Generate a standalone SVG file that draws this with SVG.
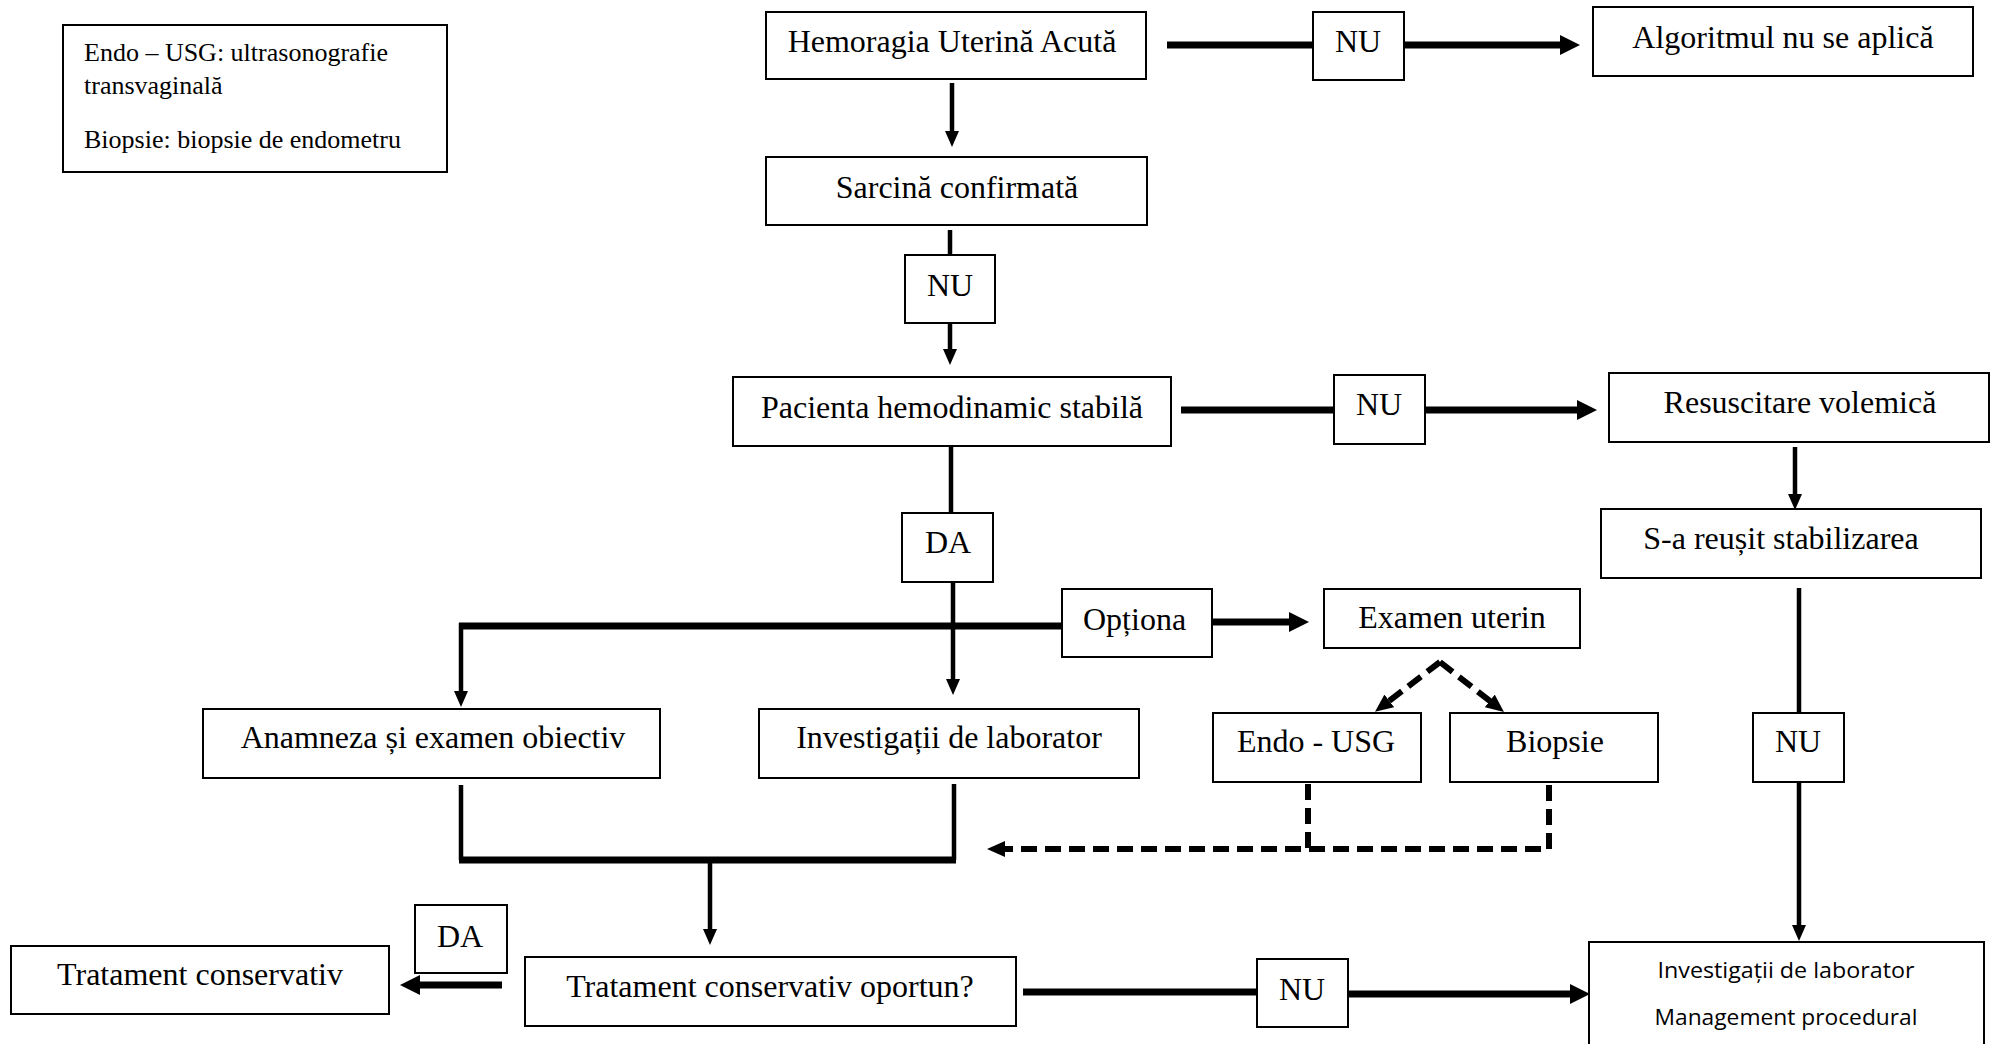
<svg xmlns="http://www.w3.org/2000/svg" width="1996" height="1044" viewBox="0 0 1996 1044">
<style>
.box{fill:#fff;stroke:#000;stroke-width:2}
.t{font-family:"Liberation Serif","Times New Roman",serif;font-size:32px;fill:#000;text-anchor:middle}
.leg{font-family:"Liberation Serif","Times New Roman",serif;font-size:26px;fill:#000}
.s{font-family:"Open Sans","Liberation Sans",sans-serif;font-size:21px;fill:#000;text-anchor:middle}
.thin{stroke:#000;stroke-width:4.5;fill:none}
.thick{stroke:#000;stroke-width:7;fill:none}
.dash{stroke:#000;stroke-width:6;fill:none;stroke-dasharray:16 8}
</style>
<defs>
<marker id="aThin" markerUnits="userSpaceOnUse" viewBox="0 0 16 14" markerWidth="16" markerHeight="14" refX="1" refY="7" orient="auto"><path d="M0,0 L16,7 L0,14 z" fill="#000"/></marker>
<marker id="aThick" markerUnits="userSpaceOnUse" viewBox="0 0 20 20" markerWidth="20" markerHeight="20" refX="1" refY="10" orient="auto"><path d="M0,0 L20,10 L0,20 z" fill="#000"/></marker>
<marker id="aDash" markerUnits="userSpaceOnUse" viewBox="0 0 18 16" markerWidth="18" markerHeight="16" refX="1" refY="8" orient="auto"><path d="M0,0 L18,8 L0,16 z" fill="#000"/></marker>
</defs>
<rect width="1996" height="1044" fill="#fff"/>

<g id="connectors">
<line class="thick" x1="1167" y1="45" x2="1313" y2="45"/>
<line class="thick" x1="1404" y1="45" x2="1561" y2="45" marker-end="url(#aThick)"/>
<line class="thin" x1="952" y1="83" x2="952" y2="132" marker-end="url(#aThin)"/>
<line class="thin" x1="950" y1="230" x2="950" y2="255"/>
<line class="thin" x1="950" y1="323" x2="950" y2="350" marker-end="url(#aThin)"/>
<line class="thick" x1="1181" y1="410" x2="1334" y2="410"/>
<line class="thick" x1="1425" y1="410" x2="1578" y2="410" marker-end="url(#aThick)"/>
<line class="thin" x1="1795" y1="447" x2="1795" y2="495" marker-end="url(#aThin)"/>
<line class="thin" x1="951" y1="447" x2="951" y2="513"/>
<line class="thick" x1="1062" y1="626" x2="459" y2="626"/>
<line class="thin" x1="461" y1="623" x2="461" y2="692" marker-end="url(#aThin)"/>
<line class="thin" x1="953" y1="582" x2="953" y2="680" marker-end="url(#aThin)"/>
<line class="thick" x1="1212" y1="622" x2="1290" y2="622" marker-end="url(#aThick)"/>
<path class="thin" d="M461,785 V860 M954,784 V860" />
<line class="thick" x1="459" y1="860" x2="956" y2="860"/>
<line class="thin" x1="710" y1="862" x2="710" y2="930" marker-end="url(#aThin)"/>
<path class="dash" d="M1308,784 V849"/>
<path class="dash" d="M1549,785 V849 H1004" marker-end="url(#aDash)"/>
<path class="dash" d="M1440,662 L1388.5,701.5" marker-end="url(#aDash)"/>
<path class="dash" d="M1440,662 L1490.6,701.5" marker-end="url(#aDash)"/>
<line class="thin" x1="1799" y1="588" x2="1799" y2="713"/>
<line class="thin" x1="1799" y1="782" x2="1799" y2="926" marker-end="url(#aThin)"/>
<line class="thick" x1="1023" y1="992" x2="1257" y2="992"/>
<line class="thick" x1="1348" y1="994" x2="1571" y2="994" marker-end="url(#aThick)"/>
<line class="thick" x1="502" y1="985" x2="419" y2="985" marker-end="url(#aThick)"/>
</g>

<g id="legend">
<rect class="box" x="63" y="25" width="384" height="147"/>
<text class="leg" x="84" y="61">Endo – USG: ultrasonografie</text>
<text class="leg" x="84" y="94">transvaginală</text>
<text class="leg" x="84" y="148">Biopsie: biopsie de endometru</text>
</g>
<g id="hemoragia"><rect class="box" x="766" y="12" width="380" height="67"/><text class="t" x="952" y="52">Hemoragia Uterină Acută</text></g>
<g id="nu1"><rect class="box" x="1313" y="12" width="91" height="68"/><text class="t" x="1358" y="52">NU</text></g>
<g id="algoritmul"><rect class="box" x="1593" y="7" width="380" height="69"/><text class="t" x="1783" y="48">Algoritmul nu se aplică</text></g>
<g id="sarcina"><rect class="box" x="766" y="157" width="381" height="68"/><text class="t" x="957" y="198">Sarcină confirmată</text></g>
<g id="nu2"><rect class="box" x="905" y="255" width="90" height="68"/><text class="t" x="950" y="296">NU</text></g>
<g id="pacienta"><rect class="box" x="733" y="377" width="438" height="69"/><text class="t" x="952" y="418">Pacienta hemodinamic stabilă</text></g>
<g id="nu3"><rect class="box" x="1334" y="375" width="91" height="69"/><text class="t" x="1379" y="415">NU</text></g>
<g id="resuscitare"><rect class="box" x="1609" y="373" width="380" height="69"/><text class="t" x="1800" y="413">Resuscitare volemică</text></g>
<g id="stabilizare"><rect class="box" x="1601" y="509" width="380" height="69"/><text class="t" x="1781" y="549">S-a reușit stabilizarea</text></g>
<g id="da1"><rect class="box" x="902" y="513" width="91" height="69"/><text class="t" x="948" y="553">DA</text></g>
<g id="optional"><rect class="box" x="1062" y="589" width="150" height="68"/><text class="t" x="1083" y="630" style="text-anchor:start">Opționa</text></g>
<g id="examen"><rect class="box" x="1324" y="589" width="256" height="59"/><text class="t" x="1452" y="628">Examen uterin</text></g>
<g id="anamneza"><rect class="box" x="203" y="709" width="457" height="69"/><text class="t" x="433" y="748">Anamneza și examen obiectiv</text></g>
<g id="investigatii"><rect class="box" x="759" y="709" width="380" height="69"/><text class="t" x="949" y="748">Investigații de laborator</text></g>
<g id="endo"><rect class="box" x="1213" y="713" width="208" height="69"/><text class="t" x="1316" y="752">Endo - USG</text></g>
<g id="biopsie"><rect class="box" x="1450" y="713" width="208" height="69"/><text class="t" x="1555" y="752">Biopsie</text></g>
<g id="nu4"><rect class="box" x="1753" y="713" width="91" height="69"/><text class="t" x="1798" y="752">NU</text></g>
<g id="da2"><rect class="box" x="415" y="905" width="92" height="68"/><text class="t" x="460" y="947">DA</text></g>
<g id="tratament"><rect class="box" x="11" y="946" width="378" height="68"/><text class="t" x="200" y="985">Tratament conservativ</text></g>
<g id="oportun"><rect class="box" x="525" y="957" width="491" height="69"/><text class="t" x="770" y="997">Tratament conservativ oportun?</text></g>
<g id="nu5"><rect class="box" x="1257" y="959" width="91" height="68"/><text class="t" x="1302" y="1000">NU</text></g>
<g id="management"><rect class="box" x="1589" y="942" width="395" height="110"/>
<text class="s" x="1786" y="978" textLength="257" lengthAdjust="spacingAndGlyphs">Investigații de laborator</text>
<text class="s" x="1786" y="1025" textLength="263" lengthAdjust="spacingAndGlyphs">Management procedural</text></g>
</svg>
